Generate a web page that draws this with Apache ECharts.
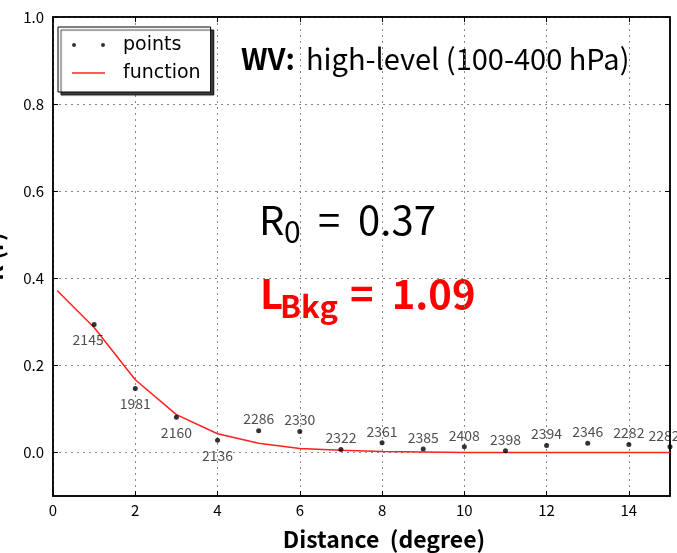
<!DOCTYPE html>
<html>
<head>
<meta charset="utf-8">
<script src="https://cdn.jsdelivr.net/npm/echarts@6/dist/echarts.min.js"></script>
<style>html,body{margin:0;padding:0;background:#fff;}#c{width:677px;height:553px;}</style>
</head>
<body>
<div id="c"></div>
<script>
// ---- data ----
const pointX = [1, 2, 3, 4, 5, 6, 7, 8, 9, 10, 11, 12, 13, 14, 15];
const pointY = [0.294, 0.147, 0.081, 0.028, 0.050, 0.048, 0.007, 0.022, 0.008, 0.013, 0.004, 0.016, 0.021, 0.018, 0.013];
const pointCounts = ['2145', '1981', '2160', '2136', '2286', '2330', '2322', '2361', '2385', '2408', '2398', '2394', '2346', '2282', '2282'];
const funcX = [0.1, 1, 2, 3, 4, 5, 6, 7, 8, 9, 10, 11, 12, 13, 14, 15];
const funcY = [0.372, 0.287, 0.167, 0.087, 0.043, 0.021, 0.009, 0.005, 0.002, 0.001, 0.0, 0.0, 0.0, 0.0, 0.0, 0.0];
const xTickValues = [0, 2, 4, 6, 8, 10, 12, 14];
const yTickValues = [0.0, 0.2, 0.4, 0.6, 0.8, 1.0];
const xAxisName = 'Distance  (degree)';
const yAxisName = 'R (r)';
const infoText = 'high-level (100-400 hPa)';
const r0Value = '0.37';
const lbkgValue = '1.09';

const FONT = 'DejaVu Sans';
const KFONT = 'Noto Sans CJK KR';
const chart = echarts.init(document.getElementById('c'), null, {renderer: 'canvas'});

const scatterData = pointX.map((x, i) => {
  const below = i < 4;
  return {
    value: [x, pointY[i]],
    label: {
      show: true,
      formatter: pointCounts[i],
      position: below ? 'bottom' : 'top',
      distance: below ? 6 : 2,
      offset: i === 0 ? [-6, 0] : (i === pointX.length - 1 ? [-6, 0] : [0, 0])
    }
  };
});
const lineData = funcX.map((x, i) => [x, funcY[i]]);

const dotsIcon = 'path://M0,2a2,2 0 1,0 4,0a2,2 0 1,0 -4,0Z M29,2a2,2 0 1,0 4,0a2,2 0 1,0 -4,0Z';
const lineIcon = 'path://M0,0L33,0L33,1.5L0,1.5Z';

const option = {
  animation: false,
  backgroundColor: '#fff',
  textStyle: {fontFamily: KFONT},
  grid: {left: 53, right: 7, top: 17, bottom: 57, outerBoundsMode: 'none', containLabel: false,
         show: true, borderColor: '#000', borderWidth: 1.5, backgroundColor: 'transparent'},
  legend: {
    orient: 'vertical',
    left: 58, top: 27,
    padding: [7, 10, 8, 14],
    itemGap: 6,
    itemWidth: 33, itemHeight: 4,
    symbolKeepAspect: true,
    backgroundColor: '#fff',
    borderColor: '#000', borderWidth: 1,
    shadowColor: 'rgba(0,0,0,0.75)', shadowOffsetX: 3, shadowOffsetY: 3, shadowBlur: 1,
    textStyle: {fontSize: 19, color: '#000', fontFamily: FONT, lineHeight: 22, padding: [0, 0, 0, 13]},
    data: [
      {name: 'points', icon: dotsIcon, itemStyle: {color: '#000'}},
      {name: 'function', icon: lineIcon, itemStyle: {color: '#ff2020', borderWidth: 0}}
    ]
  },
  xAxis: [{
    type: 'value', min: 0, max: 15, interval: 2,
    name: xAxisName, nameLocation: 'middle', nameGap: 32,
    nameTextStyle: {fontSize: 23, fontWeight: 'bold', color: '#000', fontFamily: KFONT, padding: [0, 0, 0, 45]},
    axisLine: {show: true, onZero: false, lineStyle: {color: '#000', width: 1.5}},
    axisTick: {show: true, inside: true, length: 5, lineStyle: {color: '#000'}, customValues: xTickValues},
    axisLabel: {fontSize: 15, color: '#000', margin: 7, fontFamily: KFONT, customValues: xTickValues},
    splitLine: {show: true, lineStyle: {color: '#888', type: [2, 4], width: 1}}
  }, {
    type: 'value', min: 0, max: 15, interval: 2, position: 'top',
    axisLine: {show: true, onZero: false, lineStyle: {color: '#000', width: 1.5}},
    axisTick: {show: true, inside: true, length: 5, lineStyle: {color: '#000'}, customValues: xTickValues},
    axisLabel: {show: false, customValues: xTickValues}, splitLine: {show: false}
  }],
  yAxis: [{
    type: 'value', min: -0.1, max: 1.0,
    name: yAxisName, nameLocation: 'middle', nameGap: 47,
    nameTextStyle: {fontSize: 23, fontWeight: 'bold', color: '#000', fontFamily: KFONT},
    axisLine: {show: true, onZero: false, lineStyle: {color: '#000', width: 1.5}},
    axisTick: {show: true, inside: true, length: 5, lineStyle: {color: '#000'}, customValues: yTickValues},
    axisLabel: {fontSize: 15, color: '#000', margin: 9, fontFamily: KFONT, customValues: yTickValues, formatter: v => v.toFixed(1)},
    splitLine: {show: true, lineStyle: {color: '#888', type: [2, 4], width: 1}}
  }, {
    type: 'value', min: -0.1, max: 1.0, position: 'right',
    axisLine: {show: true, onZero: false, lineStyle: {color: '#000', width: 1.5}},
    axisTick: {show: true, inside: true, length: 5, lineStyle: {color: '#000'}, customValues: yTickValues},
    axisLabel: {show: false, customValues: yTickValues}, splitLine: {show: false}
  }],
  series: [{
    name: 'function', type: 'line', xAxisIndex: 0, yAxisIndex: 0,
    data: lineData, symbol: 'none', showSymbol: false,
    lineStyle: {color: '#ff2020', width: 1.5}, itemStyle: {color: '#ff2020'}, z: 2
  }, {
    name: 'points', type: 'scatter', xAxisIndex: 0, yAxisIndex: 0,
    data: scatterData, symbol: 'circle', symbolSize: 5,
    itemStyle: {color: '#000'},
    label: {fontSize: 14, color: '#222', fontFamily: KFONT},
    z: 3
  }],
  graphic: [
    {type: 'text', x: 241, y: 59, style: {text: 'WV:', fontSize: 29, fontWeight: 'bold', fontFamily: KFONT, fill: '#000', verticalAlign: 'middle'}},
    {type: 'text', x: 306, y: 59, style: {text: infoText, fontSize: 29, fontFamily: KFONT, fill: '#000', verticalAlign: 'middle'}},
    {type: 'text', x: 259, y: 220, style: {text: 'R', fontSize: 40, fontFamily: KFONT, fill: '#000', verticalAlign: 'middle'}},
    {type: 'text', x: 284, y: 232, style: {text: '0', fontSize: 30, fontFamily: KFONT, fill: '#000', verticalAlign: 'middle'}},
    {type: 'text', x: 318, y: 220, style: {text: '=  ' + r0Value, fontSize: 40, fontFamily: KFONT, fill: '#000', verticalAlign: 'middle'}},
    {type: 'text', x: 260, y: 294, style: {text: 'L', fontSize: 40, fontWeight: 'bold', fontFamily: KFONT, fill: '#ff0000', verticalAlign: 'middle'}},
    {type: 'text', x: 280, y: 306, style: {text: 'Bkg', fontSize: 31, fontWeight: 'bold', fontFamily: KFONT, fill: '#ff0000', verticalAlign: 'middle'}},
    {type: 'text', x: 350, y: 294, style: {text: '=  ' + lbkgValue, fontSize: 40, fontWeight: 'bold', fontFamily: KFONT, fill: '#ff0000', verticalAlign: 'middle'}}
  ]
};
chart.setOption(option);
</script>
</body>
</html>
